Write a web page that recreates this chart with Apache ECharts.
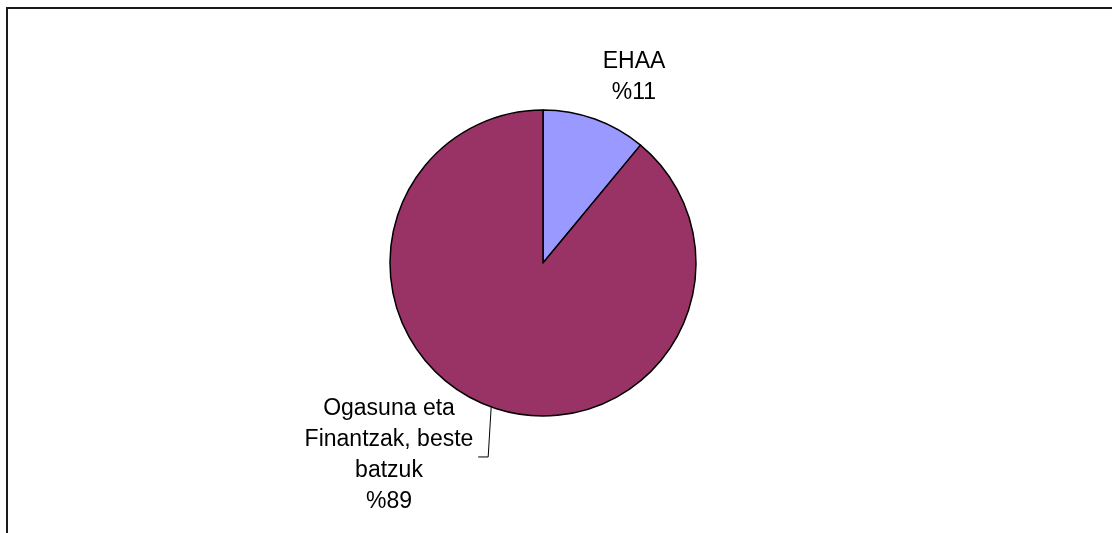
<!DOCTYPE html>
<html>
<head>
<meta charset="utf-8">
<script src="https://cdn.jsdelivr.net/npm/echarts@6/dist/echarts.min.js"></script>
<style>
    html, body { margin: 0; padding: 0; background: #fff; }
    #main { width: 1112px; height: 533px; }
</style>
</head>
<body>
<div id="main"></div>
<script>
// data
const names = ['EHAA', 'Ogasuna eta\nFinantzak, beste\nbatzuk']
const values = [11, 89]
const colors = ['#9999FF', '#993366']

// where each label sits (block centre)
const labelSpots = [[634, 77], [389, 455]]

let data = names.map((n, i) => ({
    name: n,
    value: values[i],
    itemStyle: { color: colors[i] },
    labelLine: { show: i === 1 },
}))

const chart = echarts.init(document.getElementById('main'))
chart.setOption({
    animation: false,
    graphic: [{
        type: 'rect',
        shape: { x: 7, y: 8, width: 1300, height: 700 },
        style: { fill: 'none', stroke: '#1a1a1a', lineWidth: 2 },
        silent: true,
    }],
    series: [{
        type: 'pie',
        center: [543, 263],
        radius: 153,
        startAngle: 90,
        clockwise: true,
        data: data,
        itemStyle: { borderColor: '#000', borderWidth: 1.5 },
        emphasis: { disabled: true },
        label: {
            show: true,
            position: 'outside',
            formatter: p => `${p.name}\n%${p.value}`,
            fontFamily: '"Liberation Sans", Arial, sans-serif',
            fontSize: 23,
            lineHeight: 31,
            color: '#000',
            align: 'center',
        },
        labelLine: {
            lineStyle: { color: '#000', width: 1 },
        },
        labelLayout: params => {
            const [x, y] = labelSpots[params.dataIndex]
            let out = { x, y, align: 'center', verticalAlign: 'middle' }
            if (params.dataIndex === 1 && params.labelLinePoints) {
                const p0 = params.labelLinePoints[0]
                out.labelLinePoints = [
                    p0,
                    [p0[0] - 3, p0[1] + 50],
                    [p0[0] - 13, p0[1] + 50],
                ]
            }
            return out
        },
    }],
})
</script>
</body>
</html>
